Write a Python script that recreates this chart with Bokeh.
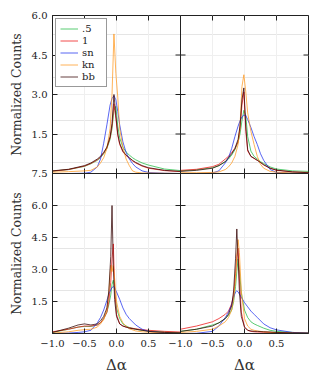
import math
from bokeh.plotting import figure
from bokeh.models import (Range1d, LinearAxis, FixedTicker, CustomJSTickFormatter,
                          Span, Legend, LegendItem, Grid)
from bokeh.embed import file_html
from bokeh.resources import INLINE

# ---------------- data ----------------
series_names = [".5", "1", "sn", "kn", "bb"]
series_colors = ["#22bb44", "#ee1111", "#2233ee", "#ff9922", "#330000"]

y_tick_values = [1.5, 3.0, 4.5, 6.0]
x_tick_values = [-1.0, -0.5, 0.0, 0.5]
y_title = "Normalized Counts"
x_title = "\u0394\u03b1"

# top-left panel
tl_x = [-1.0, -0.75, -0.5, -0.4, -0.3, -0.25, -0.2, -0.15, -0.1, -0.07, -0.04, -0.01,
        0.02, 0.05, 0.1, 0.15, 0.2, 0.25, 0.3, 0.4, 0.5, 0.75, 1.0]
tl_p5 = [0.09, 0.15, 0.27, 0.37, 0.5, 0.6, 0.75, 0.95, 1.3, 1.7, 2.4, 2.55,
         1.8, 1.35, 1.0, 0.82, 0.7, 0.6, 0.52, 0.4, 0.32, 0.17, 0.11]
tl_1 = [0.09, 0.15, 0.28, 0.38, 0.52, 0.62, 0.78, 0.98, 1.35, 1.8, 2.65, 2.1,
        1.45, 1.1, 0.82, 0.68, 0.58, 0.48, 0.4, 0.28, 0.2, 0.11, 0.07]
tl_sn = [0.0, 0.0, 0.01, 0.05, 0.25, 0.55, 1.15, 1.85, 2.6, 2.85, 2.95, 2.8,
         2.35, 1.85, 1.2, 0.8, 0.55, 0.38, 0.25, 0.1, 0.04, 0.01, 0.0]
tl_kn = [0.05, 0.07, 0.1, 0.12, 0.25, 0.4, 0.6, 0.95, 1.7, 3.0, 5.3, 3.8,
         2.9, 1.7, 1.0, 0.55, 0.3, 0.1, 0.05, 0.02, 0.02, 0.01, 0.0]
tl_bb = [0.1, 0.16, 0.3, 0.4, 0.55, 0.65, 0.8, 1.0, 1.4, 1.9, 3.0, 2.2,
         1.5, 1.15, 0.85, 0.7, 0.6, 0.5, 0.42, 0.3, 0.22, 0.12, 0.08]

# top-right panel
tr_x = [-1.0, -0.75, -0.5, -0.4, -0.3, -0.25, -0.2, -0.15, -0.1, -0.07, -0.04, -0.01,
        0.02, 0.05, 0.1, 0.15, 0.2, 0.25, 0.3, 0.4, 0.5, 0.75, 1.0]
tr_p5 = [0.1, 0.14, 0.22, 0.3, 0.45, 0.55, 0.7, 0.9, 1.2, 1.5, 2.0, 2.4,
         2.2, 1.4, 0.85, 0.65, 0.55, 0.45, 0.38, 0.25, 0.17, 0.1, 0.08]
tr_1 = [0.12, 0.16, 0.26, 0.35, 0.55, 0.65, 0.8, 0.95, 1.2, 1.7, 2.6, 3.1,
        1.6, 0.85, 0.65, 0.57, 0.5, 0.42, 0.33, 0.2, 0.12, 0.06, 0.04]
tr_sn = [0.0, 0.0, 0.02, 0.1, 0.4, 0.6, 0.95, 1.4, 1.8, 2.0, 2.15, 2.22,
         2.2, 2.05, 1.75, 1.4, 1.1, 0.75, 0.5, 0.15, 0.04, 0.01, 0.0]
tr_kn = [0.03, 0.03, 0.04, 0.06, 0.15, 0.25, 0.4, 0.65, 1.1, 1.8, 3.3, 3.75,
         3.1, 2.3, 1.6, 1.1, 0.65, 0.35, 0.2, 0.08, 0.05, 0.02, 0.01]
tr_bb = [0.08, 0.12, 0.2, 0.3, 0.45, 0.6, 0.75, 0.95, 1.3, 1.8, 2.8, 3.25,
         1.8, 0.9, 0.65, 0.58, 0.5, 0.42, 0.33, 0.2, 0.13, 0.06, 0.03]

# bottom-left panel
bl_x = [-1.0, -0.75, -0.6, -0.5, -0.4, -0.3, -0.25, -0.2, -0.15, -0.12, -0.09, -0.07,
        -0.05, -0.03, 0.0, 0.05, 0.1, 0.15, 0.2, 0.3, 0.4, 0.5, 0.75, 1.0]
bl_p5 = [0.05, 0.2, 0.3, 0.33, 0.33, 0.4, 0.5, 0.7, 1.0, 1.35, 1.8, 2.3,
         2.5, 2.0, 1.2, 0.7, 0.45, 0.35, 0.28, 0.2, 0.15, 0.12, 0.07, 0.04]
bl_1 = [0.08, 0.2, 0.3, 0.35, 0.35, 0.4, 0.5, 0.7, 1.0, 1.5, 2.4, 3.5,
        4.2, 2.2, 0.9, 0.45, 0.35, 0.3, 0.27, 0.22, 0.18, 0.15, 0.1, 0.07]
bl_sn = [0.0, 0.02, 0.05, 0.08, 0.15, 0.5, 0.75, 1.1, 1.55, 1.85, 2.05, 2.15,
         2.2, 2.15, 1.95, 1.6, 1.2, 0.9, 0.7, 0.4, 0.2, 0.1, 0.03, 0.01]
bl_kn = [0.02, 0.08, 0.15, 0.18, 0.2, 0.3, 0.45, 0.65, 1.1, 1.9, 3.2, 2.9,
         3.2, 2.6, 1.5, 0.8, 0.5, 0.35, 0.22, 0.12, 0.08, 0.06, 0.03, 0.02]
bl_bb = [0.05, 0.25, 0.4, 0.45, 0.4, 0.45, 0.6, 0.8, 1.2, 2.0, 3.6, 6.0,
         3.2, 1.6, 0.8, 0.45, 0.35, 0.3, 0.25, 0.2, 0.15, 0.1, 0.05, 0.03]

# bottom-right panel
br_x = [-1.0, -0.75, -0.5, -0.4, -0.3, -0.25, -0.2, -0.17, -0.14, -0.12, -0.1, -0.08,
        -0.05, 0.0, 0.05, 0.1, 0.15, 0.2, 0.3, 0.4, 0.5, 0.75, 1.0]
br_p5 = [0.1, 0.2, 0.4, 0.5, 0.7, 0.85, 1.1, 1.5, 2.2, 2.9, 3.5, 3.0,
         1.9, 1.1, 0.75, 0.55, 0.45, 0.38, 0.25, 0.15, 0.1, 0.05, 0.02]
br_1 = [0.2, 0.35, 0.55, 0.7, 0.9, 1.05, 1.4, 1.8, 2.8, 3.6, 4.0, 2.6,
        1.0, 0.3, 0.15, 0.1, 0.08, 0.07, 0.06, 0.05, 0.04, 0.02, 0.01]
br_sn = [0.0, 0.01, 0.1, 0.35, 0.75, 1.0, 1.35, 1.7, 1.95, 2.0, 1.95, 1.85,
         1.7, 1.45, 1.25, 1.05, 0.9, 0.75, 0.45, 0.27, 0.17, 0.05, 0.02]
br_kn = [0.05, 0.1, 0.2, 0.35, 0.55, 0.75, 1.1, 1.6, 2.6, 3.6, 4.4, 3.8,
         2.0, 0.7, 0.35, 0.2, 0.15, 0.12, 0.08, 0.06, 0.04, 0.02, 0.01]
br_bb = [0.1, 0.2, 0.35, 0.5, 0.7, 0.9, 1.3, 2.0, 3.5, 4.9, 3.5, 2.0,
         0.8, 0.3, 0.15, 0.12, 0.1, 0.1, 0.08, 0.07, 0.05, 0.03, 0.02]

# ---------------- layout ----------------
PANEL_W = 128
TOP_H = 158
BOT_H = 160
TOP_MAX = 6.0
BOT_MAX = 7.5
X_LO, X_HI = -1.0, 1.0
X_SPAN = X_HI - X_LO

FONT = "DejaVu Serif"
AXIS_COLOR = "#222222"
GRID_COLOR = "#efefef"
TEXT_COLOR = "#222222"

y_def_end = BOT_MAX * (TOP_H + BOT_H) / BOT_H
y_top_start = -TOP_MAX * BOT_H / TOP_H

p = figure(frame_width=2 * PANEL_W, frame_height=TOP_H + BOT_H,
           x_range=Range1d(X_LO, X_HI + X_SPAN), y_range=Range1d(0, y_def_end),
           output_backend="svg", toolbar_location=None,
           x_axis_location=None, y_axis_location=None,
           min_border_left=52, min_border_right=8, min_border_top=15, min_border_bottom=44,
           background_fill_color="white", border_fill_color="white")
p.outline_line_color = AXIS_COLOR
p.outline_line_width = 1
p.extra_x_ranges = {"right": Range1d(X_LO - X_SPAN, X_HI)}
p.extra_y_ranges = {"top": Range1d(y_top_start, TOP_MAX)}

k_top = (y_def_end - BOT_MAX) / TOP_MAX
y_tick_pos = y_tick_values + [BOT_MAX] + [BOT_MAX + v * k_top for v in y_tick_values]
x_tick_pos = x_tick_values + [v + X_SPAN for v in x_tick_values]

yt = FixedTicker(ticks=y_tick_pos)
xt = FixedTicker(ticks=x_tick_pos)

yf = CustomJSTickFormatter(args=dict(split=BOT_MAX, k=k_top), code="""
    const v = tick > split + 1e-9 ? (tick - split) / k : tick;
    return v.toFixed(1);
""")
xf = CustomJSTickFormatter(args=dict(mid=X_HI - 1e-9, shift=X_SPAN), code="""
    const v = tick > mid ? tick - shift : tick;
    return v.toFixed(1).replace('-', '\u2212');
""")

p.add_layout(Grid(dimension=0, ticker=xt, grid_line_color=GRID_COLOR, grid_line_width=1))
p.add_layout(Grid(dimension=1, ticker=yt, grid_line_color=GRID_COLOR, grid_line_width=1))


def tick_axis(ticker, formatter, standoff):
    ax = LinearAxis(ticker=ticker, formatter=formatter)
    ax.major_tick_in = 5
    ax.major_tick_out = 0
    ax.minor_tick_line_color = None
    ax.axis_line_color = AXIS_COLOR
    ax.major_tick_line_color = AXIS_COLOR
    ax.major_label_text_font = FONT
    ax.major_label_text_font_size = "10px"
    ax.major_label_text_color = TEXT_COLOR
    ax.major_label_standoff = standoff
    return ax


def title_axis(ticker, text, size):
    ax = LinearAxis(ticker=ticker,
                    formatter=CustomJSTickFormatter(args=dict(t=text), code="return t;"))
    ax.axis_line_color = None
    ax.major_tick_line_color = None
    ax.minor_tick_line_color = None
    ax.major_tick_in = 0
    ax.major_tick_out = 0
    ax.major_label_text_font = FONT
    ax.major_label_text_font_size = size
    ax.major_label_text_color = "#333333"
    return ax


p.add_layout(tick_axis(yt, yf, 5), "left")
p.add_layout(tick_axis(xt, xf, 6), "below")

# panel-centred axis titles (one per row / column)
y_title_axis = title_axis(FixedTicker(ticks=[BOT_MAX / 2, BOT_MAX + (TOP_MAX / 2) * k_top]),
                          y_title, "12.5px")
y_title_axis.major_label_orientation = "vertical"
y_title_axis.major_label_standoff = 5
p.add_layout(y_title_axis, "left")
x_title_axis = title_axis(FixedTicker(ticks=[0.0, X_SPAN]), x_title, "15px")
x_title_axis.major_label_standoff = 6
p.add_layout(x_title_axis, "below")

# internal panel boundaries
p.add_layout(Span(location=X_HI, dimension="height", line_color=AXIS_COLOR, line_width=1))
p.add_layout(Span(location=BOT_MAX, dimension="width", line_color=AXIS_COLOR, line_width=1))

# inward ticks on the internal boundaries and on the top / right frame edges
x_right_edge = X_HI + X_SPAN
for xv in (X_HI, x_right_edge):
    p.scatter(x=[xv] * len(y_tick_pos), y=y_tick_pos, marker="dash", size=10,
              line_color=AXIS_COLOR, line_width=1)
for yv in (BOT_MAX, y_def_end):
    p.scatter(x=x_tick_pos, y=[yv] * len(x_tick_pos), marker="dash", size=10,
              angle=math.pi / 2, line_color=AXIS_COLOR, line_width=1)

panels = [
    (tl_x, [tl_p5, tl_1, tl_sn, tl_kn, tl_bb], "default", "top"),
    (tr_x, [tr_p5, tr_1, tr_sn, tr_kn, tr_bb], "right", "top"),
    (bl_x, [bl_p5, bl_1, bl_sn, bl_kn, bl_bb], "default", "default"),
    (br_x, [br_p5, br_1, br_sn, br_kn, br_bb], "right", "default"),
]

legend_items = []
for pi, (xs, ys_list, xr, yr) in enumerate(panels):
    for name, color, ys in zip(series_names, series_colors, ys_list):
        r = p.line(xs, ys, line_color=color, line_width=1, line_alpha=0.75,
                   x_range_name=xr, y_range_name=yr)
        if pi == 0:
            legend_items.append(LegendItem(label=name, renderers=[r]))

legend = Legend(items=legend_items, location="top_left", margin=3, padding=4,
                spacing=1, glyph_width=18, glyph_height=11, label_height=11,
                label_standoff=4, label_text_font=FONT, label_text_font_size="10px",
                label_text_color=TEXT_COLOR, border_line_color="#333333",
                border_line_width=1, background_fill_color="white",
                background_fill_alpha=1.0)
p.add_layout(legend)

open("out.html", "w").write(file_html(p, INLINE))
